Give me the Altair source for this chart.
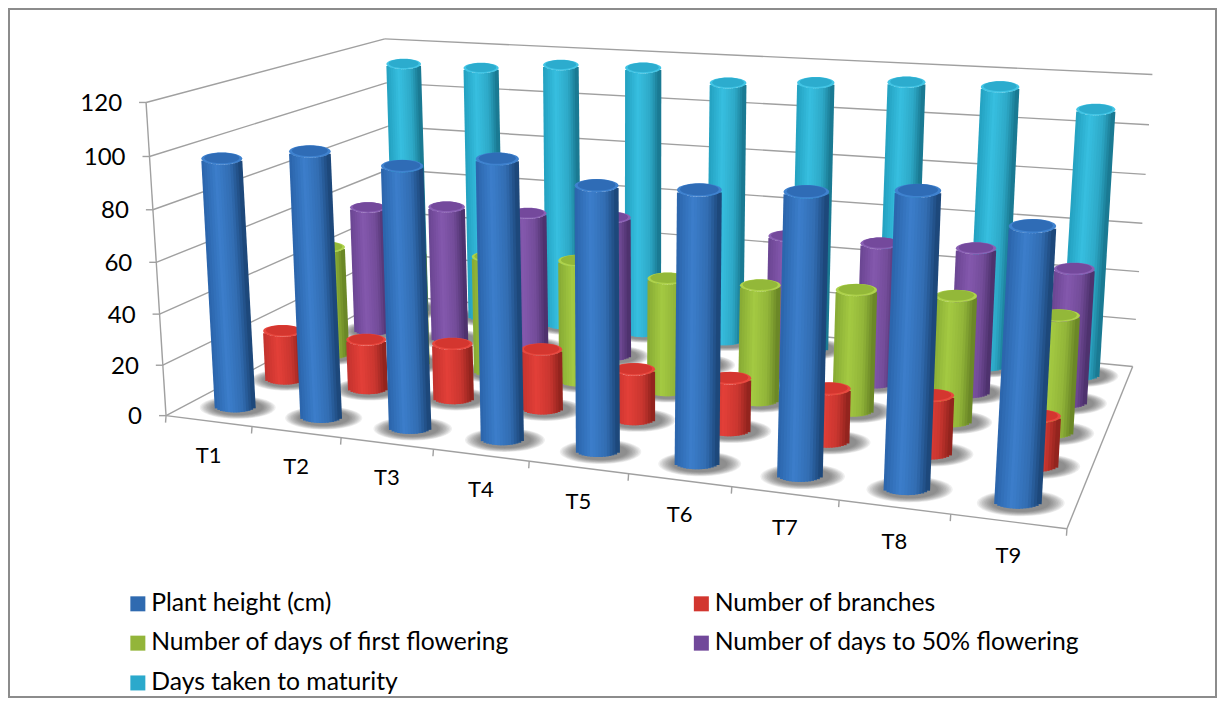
import numpy as np
import pandas as pd
import altair as alt

categories = ["T1", "T2", "T3", "T4", "T5", "T6", "T7", "T8", "T9"]
series = ["Plant height (cm)", "Number of branches", "Number of days of first flowering",
          "Number of days to 50% flowering", "Days taken to maturity"]
plant_height = [97, 102, 99, 104, 97, 98, 100, 103, 94]
branches = [20, 20, 22, 23.5, 19.5, 20, 20, 21.5, 18]
first_flowering = [46, 47, 48, 49.5, 45.5, 46, 47.5, 48.5, 44.5]
fifty_flowering = [55, 58, 58, 59, 55, 57, 57, 58, 53]
maturity = [112, 112, 115, 115.5, 111, 113, 115, 115, 108]
values = [plant_height, branches, first_flowering, fifty_flowering, maturity]
y_ticks = [0, 20, 40, 60, 80, 100, 120]

edge_left = ["#2a64aa", "#c2332e", "#86a934", "#6a4592", "#23a0bf"]
mid_col = ["#3c7ecb", "#e33f38", "#a4ca42", "#8458ad", "#37bfe0"]
edge_right = ["#1a4374", "#8c211c", "#668224", "#492f68", "#17748c"]
cap_col = ["#2f6cb6", "#d4362f", "#93b839", "#74499c", "#2cacce"]
rim_col = ["#3f82cf", "#e8483f", "#aed24c", "#8a60b4", "#42c5e5"]
legend_col = ["#2f6ab0", "#d2362f", "#93b53a", "#71489a", "#2ba9cc"]
legend_order = [0, 2, 4, 1, 3]  # the legend fills column by column

W, H = 1209, 690
OFF = 8
# viewing geometry of the box: (category, series, value) -> picture
corners = [((0, 0, 0), (167, 414)), ((9, 0, 0), (1067, 530)), ((9, 5, 0), (1133, 365)),
           ((0, 5, 0), (392, 297)), ((0, 0, 120), (145, 103)), ((9, 5, 120), (1152, 75)),
           ((0, 5, 120), (386, 38))]
A = []
for (u, v, w), (px, py) in corners:
    A.append([u, v, w, 1, 0, 0, 0, 0, -px * u, -px * v, -px * w, -px])
    A.append([0, 0, 0, 0, u, v, w, 1, -py * u, -py * v, -py * w, -py])
P = np.linalg.svd(np.array(A, float))[2][-1].reshape(3, 4)


def proj(u, v, w):
    q = P @ np.array([u, v, w, 1.0])
    return q[0] / q[2], q[1] / q[2], q[2]


_, _, d0 = proj(0.5, 0.5, 0)
K = 41 * d0
RATIO = 0.3
N = 15
OVER = 1.6


def hex2rgb(h):
    return np.array([int(h[i:i + 2], 16) for i in (1, 3, 5)], float)


def shade(s, t):
    stops = [-1, -0.25, 0.45, 1]
    cols = [hex2rgb(edge_left[s]), hex2rgb(mid_col[s]),
            0.7 * hex2rgb(mid_col[s]) + 0.3 * hex2rgb(edge_right[s]), hex2rgb(edge_right[s])]
    rgb = [np.interp(t, stops, [c[k] for c in cols]) for k in range(3)]
    return "#%02x%02x%02x" % tuple(int(round(x)) for x in rgb)


path = f"M-1,0A1,{RATIO},0,1,1,1,0A1,{RATIO},0,1,1,-1,0Z"

sx = alt.Scale(domain=[OFF, OFF + W])
sy = alt.Scale(domain=[OFF + H, OFF])
X = lambda f: alt.X(f, type="quantitative", scale=sx, axis=None)
Y = lambda f: alt.Y(f, type="quantitative", scale=sy, axis=None)

# frame lines
segs = []
for t in y_ticks:
    a, b, c = proj(0, 0, t), proj(0, 5, t), proj(9, 5, t)
    e = proj(0, 0, t)
    segs.append((a[0], a[1], b[0], b[1]))
    segs.append((b[0], b[1], c[0], c[1]))
    segs.append((e[0] - 7, e[1], e[0], e[1]))
a, b = proj(0, 0, 0), proj(0, 0, 120)
segs.append((a[0], a[1], b[0], b[1]))
a, b = proj(0, 0, 0), proj(9, 0, 0)
segs.append((a[0], a[1], b[0], b[1]))
a, b = proj(9, 0, 0), proj(9, 5, 0)
segs.append((a[0], a[1], b[0], b[1]))
for i in range(10):
    a = proj(i, 0, 0)
    segs.append((a[0], a[1], a[0] - 0.5, a[1] + 7))
line_df = pd.DataFrame(segs, columns=["x", "y", "x2", "y2"])
lines = alt.Chart(line_df).mark_rule(color="#a0a0a0", strokeWidth=1.4).encode(
    x=X("x"), y=Y("y"), x2="x2", y2="y2")

border_df = pd.DataFrame({"x": [9], "x2": [OFF + W - 1], "y": [9], "y2": [OFF + H - 1]})
border = alt.Chart(border_df).mark_rect(fillOpacity=0, stroke="#8c8c8c", strokeWidth=2).encode(
    x=X("x"), y=Y("y"), x2="x2", y2="y2")

# shadows
rows = []
for s in range(5):
    for i in range(9):
        bx, by, d = proj(i + 0.5, s + 0.5, 0)
        D = K / d
        for k in (1.85, 1.78, 1.71, 1.64, 1.57, 1.5, 1.43, 1.36, 1.29, 1.22):
            rows.append({"x": bx + 0.06 * D, "y": by + 0.03 * D, "size": (k * D) ** 2})
shadow_df = pd.DataFrame(rows)
shadows = alt.Chart(shadow_df).mark_point(shape=path, filled=True, color="#444444", opacity=0.085,
                                          strokeWidth=0).encode(
    x=X("x"), y=Y("y"), size=alt.Size("size:Q", scale=None, legend=None))

layers = [lines, border, shadows]
for s in range(4, -1, -1):
    strips, caps = [], []
    for i in range(9):
        u, v = i + 0.5, s + 0.5
        val = values[s][i]
        bx, by, d = proj(u, v, 0)
        tx, ty, d1 = proj(u, v, val)
        D = K / d
        sw = D / N + OVER
        for t in np.linspace(-1 + 1 / N, 1 - 1 / N, N):
            off = t * (D - sw) / 2 / (1 - 1 / N)
            arc = RATIO * D / 2 * np.sqrt(1 - t * t)
            strips.append({"x": tx + off, "y": ty + arc, "x2": bx + off, "y2": by + arc,
                           "hex": shade(s, t), "sw": sw})
        caps.append({"x": tx, "y": ty, "outer": D ** 2, "inner": (0.86 * D) ** 2, "iy": ty - 0.015 * D})
    strip_df = pd.DataFrame(strips)
    cap_df = pd.DataFrame(caps)
    layers.append(alt.Chart(strip_df).mark_rule(strokeCap="butt").encode(
        x=X("x"), y=Y("y"), x2="x2", y2="y2",
        stroke=alt.Stroke("hex:N", scale=None, legend=None),
        strokeWidth=alt.StrokeWidth("sw:Q", scale=None, legend=None)))
    layers.append(alt.Chart(cap_df).mark_point(shape=path, filled=True, color=rim_col[s], opacity=1,
                                               strokeWidth=0).encode(
        x=X("x"), y=Y("y"), size=alt.Size("outer:Q", scale=None, legend=None)))
    layers.append(alt.Chart(cap_df).mark_point(shape=path, filled=True, color=cap_col[s], opacity=1,
                                               strokeWidth=0).encode(
        x=X("x"), y=Y("iy"), size=alt.Size("inner:Q", scale=None, legend=None)))

# axis labels
ylab = pd.DataFrame([{"x": proj(0, 0, t)[0], "y": proj(0, 0, t)[1], "t": str(t)} for t in y_ticks])
layers.append(alt.Chart(ylab).mark_text(font="Lato", fontSize=24, align="right", baseline="middle",
                                        dx=-24, dy=1.5, color="#000000").encode(
    x=X("x"), y=Y("y"), text="t:N"))
xlab = pd.DataFrame([{"x": proj(i + 0.5, 0, 0)[0], "y": proj(i + 0.5, 0, 0)[1], "t": c}
                     for i, c in enumerate(categories)])
layers.append(alt.Chart(xlab).mark_text(font="Lato", fontSize=22, align="center", baseline="middle",
                                        dx=0, dy=35, color="#000000").encode(
    x=X("x"), y=Y("y"), text="t:N"))

# legend
leg_domain = [series[i] for i in legend_order]
leg_range = [legend_col[i] for i in legend_order]
leg_df = pd.DataFrame({"s": series, "x": [100.0] * 5, "y": [100.0] * 5})
layers.append(alt.Chart(leg_df).mark_square(size=0, opacity=1).encode(
    x=X("x"), y=Y("y"),
    color=alt.Color("s:N", scale=alt.Scale(domain=leg_domain, range=leg_range), title=None,
                    legend=alt.Legend(orient="none", legendX=117.5, legendY=583, columns=2,
                                      columnPadding=178.5, rowPadding=13.8, labelFont="Lato",
                                      labelFontSize=24.7, labelColor="#000000", symbolType="square",
                                      symbolSize=225, symbolStrokeWidth=0, symbolOpacity=1,
                                      labelLimit=500, labelOffset=1, padding=0))))

chart = alt.layer(*layers).properties(width=W, height=H, padding=0, autosize="none",
                                      background="white").configure_view(stroke=None)
chart.save("out.html", embed_options={"renderer": "svg", "actions": False})
